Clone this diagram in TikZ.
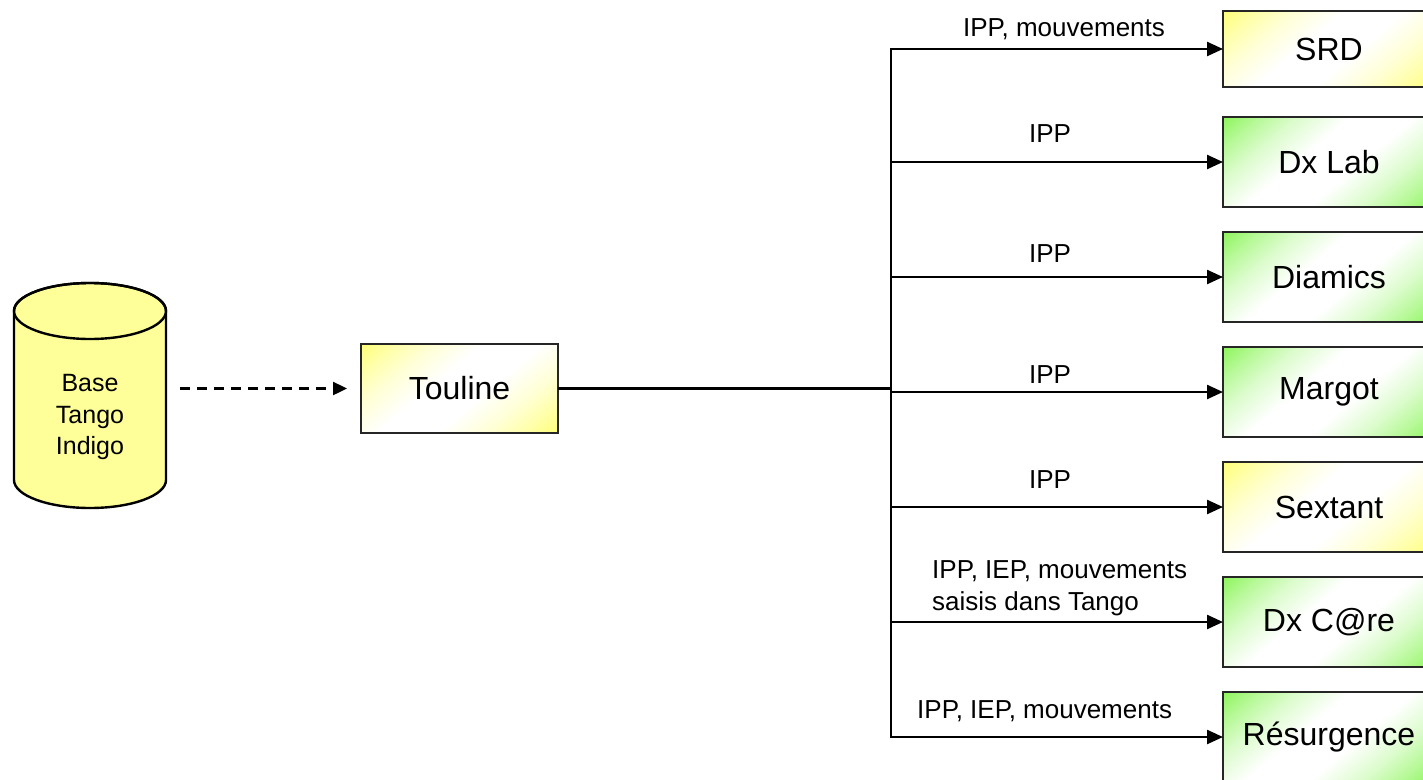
\documentclass[tikz,border=0pt]{standalone}
\usepackage{fontspec}
\setmainfont{Liberation Sans}
\usetikzlibrary{arrows.meta,calc}
\definecolor{boxyellow}{RGB}{255,255,120}
\definecolor{boxgreen}{RGB}{140,245,90}
\definecolor{dbfill}{RGB}{255,255,153}
\pgfdeclarehorizontalshading{yshade}{100bp}{color(0bp)=(boxyellow); color(25bp)=(boxyellow); color(31bp)=(boxyellow!62!white); color(37bp)=(boxyellow!30!white); color(45bp)=(white); color(55bp)=(white); color(63bp)=(boxyellow!30!white); color(69bp)=(boxyellow!62!white); color(75bp)=(boxyellow); color(100bp)=(boxyellow)}
\pgfdeclarehorizontalshading{gshade}{100bp}{color(0bp)=(boxgreen); color(25bp)=(boxgreen); color(31bp)=(boxgreen!62!white); color(37bp)=(boxgreen!30!white); color(45bp)=(white); color(55bp)=(white); color(63bp)=(boxgreen!30!white); color(69bp)=(boxgreen!62!white); color(75bp)=(boxgreen); color(100bp)=(boxgreen)}
\newcommand\gradfill[2]{%
  \begin{scope}[transform canvas={rotate around={-50:(path picture bounding box.center)}}]
    \shade[shading=#1] ($(path picture bounding box.center)+(-#2,-260)$) rectangle ($(path picture bounding box.center)+(#2,260)$);
  \end{scope}}
\tikzset{
  sysbox/.style={draw=black!85, line width=2.6pt, inner sep=0pt, outer sep=0pt, anchor=north west,
    font=\fontsize{32}{38}\selectfont},
  ybox/.style={sysbox, path picture={\gradfill{yshade}{#1}}},
  gbox/.style={sysbox, path picture={\gradfill{gshade}{#1}}},
  lbl/.style={inner sep=0pt, anchor=base, font=\fontsize{26}{32}\selectfont},
  lbll/.style={lbl, anchor=base west},
  link/.style={line width=2.4pt, draw=black},
  arr/.style={link, -{Triangle[length=16pt,width=14pt]}},
  darr/.style={line width=2.4pt, dash pattern=on 10pt off 7pt, -{Triangle[length=14pt,width=13pt]}},
}
\begin{document}
\begin{tikzpicture}[x=1pt,y=-1pt]
\useasboundingbox (0,0) rectangle (1423,779);
\clip (0,0) rectangle (1423,779);
% database cylinder
\draw[line width=2.4pt, fill=dbfill] (14,311) -- (14,480) arc[start angle=180,end angle=0,x radius=76,y radius=28]
  -- (166,311) arc[start angle=0,end angle=-180,x radius=76,y radius=28] -- cycle;
\draw[line width=2.4pt] (90,311) ellipse [x radius=76, y radius=28];
\node[align=center, inner sep=0pt, font=\fontsize{25}{31.5}\selectfont] (db) at (90,417) {Base\\Tango\\Indigo};
\coordinate (dbr) at (166,388.5);
% Touline
\node[ybox=97, minimum width=197pt, minimum height=89pt] (tou) at (361,344) {Touline};
% targets
\node[ybox=97, minimum width=212pt, minimum height=76pt] (srd) at (1223,11) {SRD};
\node[gbox=103, minimum width=212pt, minimum height=90pt] (dxl) at (1223,117) {Dx Lab};
\node[gbox=103, minimum width=212pt, minimum height=90pt] (dia) at (1223,232) {Diamics};
\node[gbox=103, minimum width=212pt, minimum height=90pt] (mar) at (1223,347) {Margot};
\node[ybox=103, minimum width=212pt, minimum height=90pt] (sex) at (1223,462) {Sextant};
\node[gbox=103, minimum width=212pt, minimum height=90pt] (dxc) at (1223,577) {Dx C@re};
\node[gbox=103, minimum width=212pt, minimum height=90pt] (res) at (1223,692) {Résurgence};
% bus coordinates
\coordinate (b1) at (891,49);
\coordinate (b2) at (891,162);
\coordinate (b3) at (891,277);
\coordinate (b4) at (891,392);
\coordinate (b5) at (891,507);
\coordinate (b6) at (891,622);
\coordinate (b7) at (891,737);
\coordinate (bt) at (891,388.5);
% connectors
\draw[darr, shorten <=14pt, shorten >=14pt] (dbr) -- (tou.west);
\draw[link] (tou.east) -- (bt);
\draw[link, line cap=rect] (b1) -- (b7);
\draw[arr] (b1) -- (b1 -| srd.west);
\draw[arr] (b2) -- (b2 -| dxl.west);
\draw[arr] (b3) -- (b3 -| dia.west);
\draw[arr] (b4) -- (b4 -| mar.west);
\draw[arr] (b5) -- (b5 -| sex.west);
\draw[arr] (b6) -- (b6 -| dxc.west);
\draw[arr] (b7) -- (b7 -| res.west);
% labels
\node[lbl] (l1) at (1064,36) {IPP, mouvements};
\node[lbl] (l2) at (1050,142) {IPP};
\node[lbl] (l3) at (1050,262) {IPP};
\node[lbl] (l4) at (1050,383) {IPP};
\node[lbl] (l5) at (1050,488) {IPP};
\node[lbll] (l6a) at (932,578) {IPP, IEP, mouvements};
\node[lbll] (l6b) at (932,610) {saisis dans Tango};
\node[lbll] (l7) at (917,718) {IPP, IEP, mouvements};
\end{tikzpicture}
\end{document}
